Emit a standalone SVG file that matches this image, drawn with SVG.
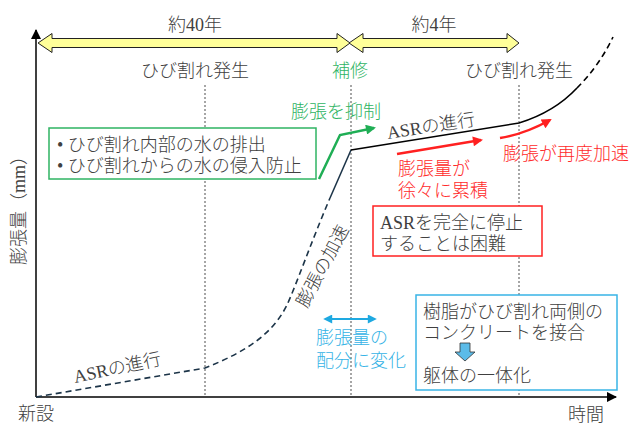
<svg xmlns="http://www.w3.org/2000/svg" width="638" height="428" viewBox="0 0 638 428">
<defs>
<style>
text{font-family:"Liberation Serif","Noto Sans CJK JP",serif;font-size:18px;fill:#404040;font-weight:300}
.g{fill:#2fb463}.r{fill:#ff2a2a}.c{fill:#35b3e6}
.dot{stroke:#777;stroke-width:1.3;stroke-dasharray:2 2;fill:none}
.yel{fill:#ffff99;stroke:#222;stroke-width:1}
</style>
<marker id="ah" viewBox="0 0 10 10" refX="9" refY="5" markerWidth="7" markerHeight="7" orient="auto"><path d="M0,0L10,5L0,10z" fill="#000"/></marker>
<marker id="ar" viewBox="0 0 10 10" refX="8" refY="5" markerWidth="12" markerHeight="10" markerUnits="userSpaceOnUse" orient="auto"><path d="M0,0L10,5L0,10z" fill="#ff2020"/></marker>
<marker id="ag" viewBox="0 0 10 10" refX="8" refY="5" markerWidth="12" markerHeight="10" markerUnits="userSpaceOnUse" orient="auto"><path d="M0,0L10,5L0,10z" fill="#1fae55"/></marker>
<marker id="ac" viewBox="0 0 10 10" refX="8" refY="5" markerWidth="10" markerHeight="9" markerUnits="userSpaceOnUse" orient="auto-start-reverse"><path d="M0,0L10,5L0,10z" fill="#1ea9e1"/></marker>
</defs>
<rect width="638" height="428" fill="#fff"/>
<g id="axes">
<line x1="36" y1="397" x2="36" y2="30" stroke="#000" stroke-width="1.5" marker-end="url(#ah)"/>
<line x1="36" y1="397" x2="616" y2="397" stroke="#000" stroke-width="1.5" marker-end="url(#ah)"/>
<text x="0" y="0" transform="translate(25,206) rotate(-90)" text-anchor="middle" font-size="17">膨張量（mm）</text>
<text x="18" y="420" font-size="17">新設</text>
<text x="568" y="421" font-size="17">時間</text>
</g>
<g id="guides">
<line class="dot" x1="205" y1="85" x2="205" y2="397"/>
<line class="dot" x1="351" y1="85" x2="351" y2="397"/>
<line class="dot" x1="519" y1="85" x2="519" y2="397"/>
</g>
<g id="period40">
<polygon class="yel" points="38,43 52,33.5 52,38.5 337,38.5 337,33.5 350,43 337,52.5 337,47.5 52,47.5 52,52.5"/>
<text x="195" y="31" text-anchor="middle">約40年</text>
</g>
<g id="period4">
<polygon class="yel" points="349,43 363,33.5 363,38.5 507,38.5 507,33.5 519,43 507,52.5 507,47.5 363,47.5 363,52.5"/>
<text x="434" y="31" text-anchor="middle">約4年</text>
</g>
<g id="crack1"><text x="195" y="77" text-anchor="middle">ひび割れ発生</text></g>
<g id="repair"><text class="g" x="350" y="77" text-anchor="middle">補修</text></g>
<g id="crack2"><text x="519" y="77" text-anchor="middle">ひび割れ発生</text></g>
<g id="connectors">
<path d="M36,397 L205,368 C245,352 272,335 287,305 C297,283 310,245 330,198" fill="none" stroke="#1c3448" stroke-width="1.6" stroke-dasharray="6 4"/>
<path d="M330,198 L351,150" fill="none" stroke="#1c3448" stroke-width="1.6"/>
<path d="M351,150 L519,123 C545,115 562,104 577,88" fill="none" stroke="#000" stroke-width="1.6"/>
<path d="M577,88 C590,75 603,58 613,37" fill="none" stroke="#000" stroke-width="1.6" stroke-dasharray="6 4"/>
<polyline points="319,179 340,135 374,128" fill="none" stroke="#1fae55" stroke-width="2.5" marker-end="url(#ag)"/>
<line x1="397" y1="154" x2="481" y2="140" stroke="#ff2020" stroke-width="2.5" marker-end="url(#ar)"/>
<path d="M500,138 Q525,134 550,120" fill="none" stroke="#ff2020" stroke-width="2.5" marker-end="url(#ar)"/>
<line x1="325" y1="319" x2="375" y2="319" stroke="#1ea9e1" stroke-width="2" marker-start="url(#ac)" marker-end="url(#ac)"/>
</g>
<g id="asr-lower"><text x="0" y="0" transform="translate(75,383) rotate(-12)" font-size="16">ASRの進行</text></g>
<g id="asr-upper"><text x="0" y="0" transform="translate(388,139) rotate(-9)" font-size="16">ASRの進行</text></g>
<g id="accel"><text x="0" y="0" transform="translate(328,269) rotate(-62)" text-anchor="middle" font-size="17">膨張の加速</text></g>
<g id="suppress"><text class="g" x="291" y="118">膨張を抑制</text></g>
<g id="greenbox">
<rect x="49" y="128" width="267" height="51" fill="#fff" stroke="#2fb463" stroke-width="1.5"/>
<text x="57" y="151">• ひび割れ内部の水の排出</text>
<text x="57" y="172">• ひび割れからの水の侵入防止</text>
</g>
<g id="accum">
<text class="r" x="398" y="175">膨張量が</text>
<text class="r" x="398" y="197">徐々に累積</text>
</g>
<g id="reaccel"><text class="r" x="503" y="160">膨張が再度加速</text></g>
<g id="redbox">
<rect x="373" y="206" width="169" height="50" fill="#fff" stroke="#ff2020" stroke-width="1.5"/>
<text x="380" y="229">ASRを完全に停止</text>
<text x="380" y="250">することは困難</text>
</g>
<g id="distrib">
<text class="c" x="316" y="344">膨張量の</text>
<text class="c" x="316" y="367">配分に変化</text>
</g>
<g id="bluebox">
<rect x="416" y="295" width="201" height="95" fill="#fff" stroke="#38b4e6" stroke-width="1.5"/>
<text x="423" y="318">樹脂がひび割れ両側の</text>
<text x="423" y="339">コンクリートを接合</text>
<polygon points="460,343 470,343 470,352 475,352 465,361 455,352 460,352" fill="#5bbbe8" stroke="#333" stroke-width="0.8"/>
<text x="423" y="382">躯体の一体化</text>
</g>
</svg>
